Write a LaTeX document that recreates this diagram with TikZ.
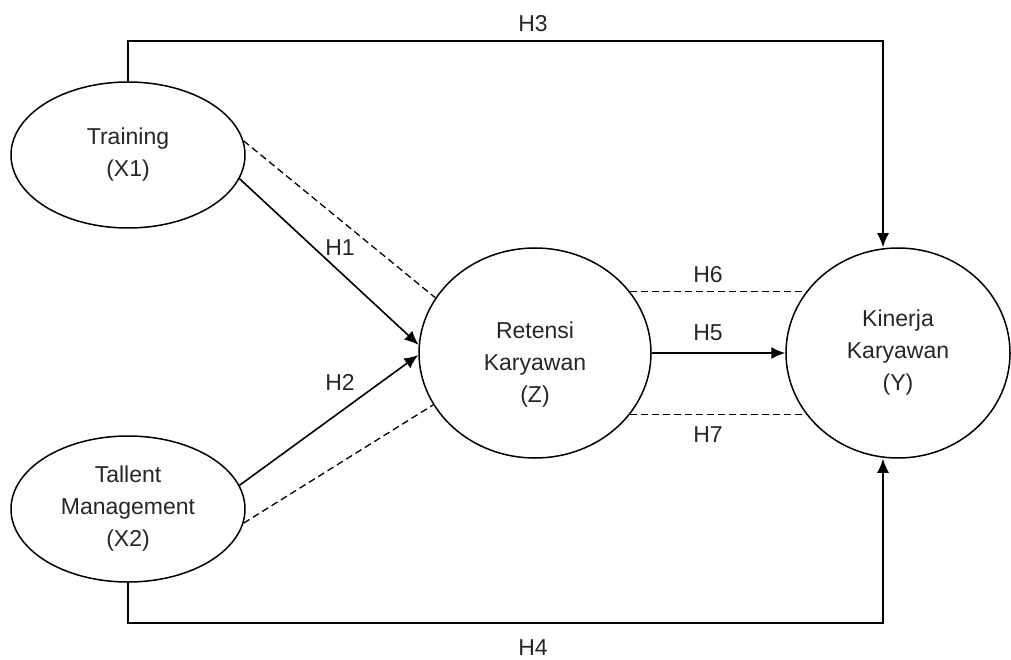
\documentclass[tikz,border=0pt]{standalone}
\usepackage{fontspec}
\setmainfont{Liberation Sans}
\usetikzlibrary{shapes,arrows.meta,calc,positioning}
\tikzset{
    latent/.style={
        ellipse,
        draw,
        line width=1.5pt,
        align=center,
        inner sep=0pt,
        minimum width=234pt,
        minimum height=146pt
    },
    bigvar/.style={
        latent,
        minimum width=232pt,
        minimum height=210pt
    },
    hyp/.style={
        draw=none,
        inner sep=0pt
    }
}

\begin{document}
\begin{tikzpicture}[
        x=1pt, y=-1pt,
        every node/.style={
            font=\fontsize{23}{32}\selectfont,
            text=black!85
        },
        path/.style={draw, line width=1.6pt, -{Latex[length=14pt,width=12pt]}},
        link/.style={draw, line width=1.3pt, dash pattern=on 7pt off 4pt},
    ]
    \useasboundingbox (0,0) rectangle (1011,660);

    % constructs
    \node[latent] (x1) at (128,155) {Training\\(X1)};
    \node[latent] (x2) at (128,509) {Tallent\\Management\\(X2)};
    \node[bigvar,
        label={[yshift=-12pt, align=center]center:Retensi\\Karyawan\\(Z)}]
        (z) at (535,353) {};
    \node[bigvar, minimum width=224pt] (y) at (898,353) {Kinerja\\Karyawan\\(Y)};

    % bends of the long paths
    \coordinate (top) at (883,41);
    \coordinate (bot) at (883,623);

    % direct paths
    \draw[path] (x1.-12) -- (z.176);
    \draw[path] (x2.12) -- (z.181);
    \draw[path] (z.east) -- (y.west);
    \draw[path] (x1.north) |- (top) -- (top |- y.north);
    \draw[path] (x2.south) |- (bot) -- (bot |- y.south);

    % mediation links
    \draw[link] (x1.7) -- (z.151);
    \draw[link] (x2.-7) -- (z.207);
    \draw[link] (z.33) -- (y.146 |- z.33);
    \draw[link] (z.-33) -- (y.-146 |- z.-33);

    % labels
    \node[hyp] (h1) at (340,248) {H1};
    \node[hyp] (h2) at (340,382) {H2};
    \node[hyp] (h3) at (533,24) {H3};
    \node[hyp] (h4) at (533,648) {H4};
    \node[hyp] (h5) at (708,333) {H5};
    \node[hyp] (h6) at (708,275) {H6};
    \node[hyp] (h7) at (708,435) {H7};
\end{tikzpicture}
\end{document}
